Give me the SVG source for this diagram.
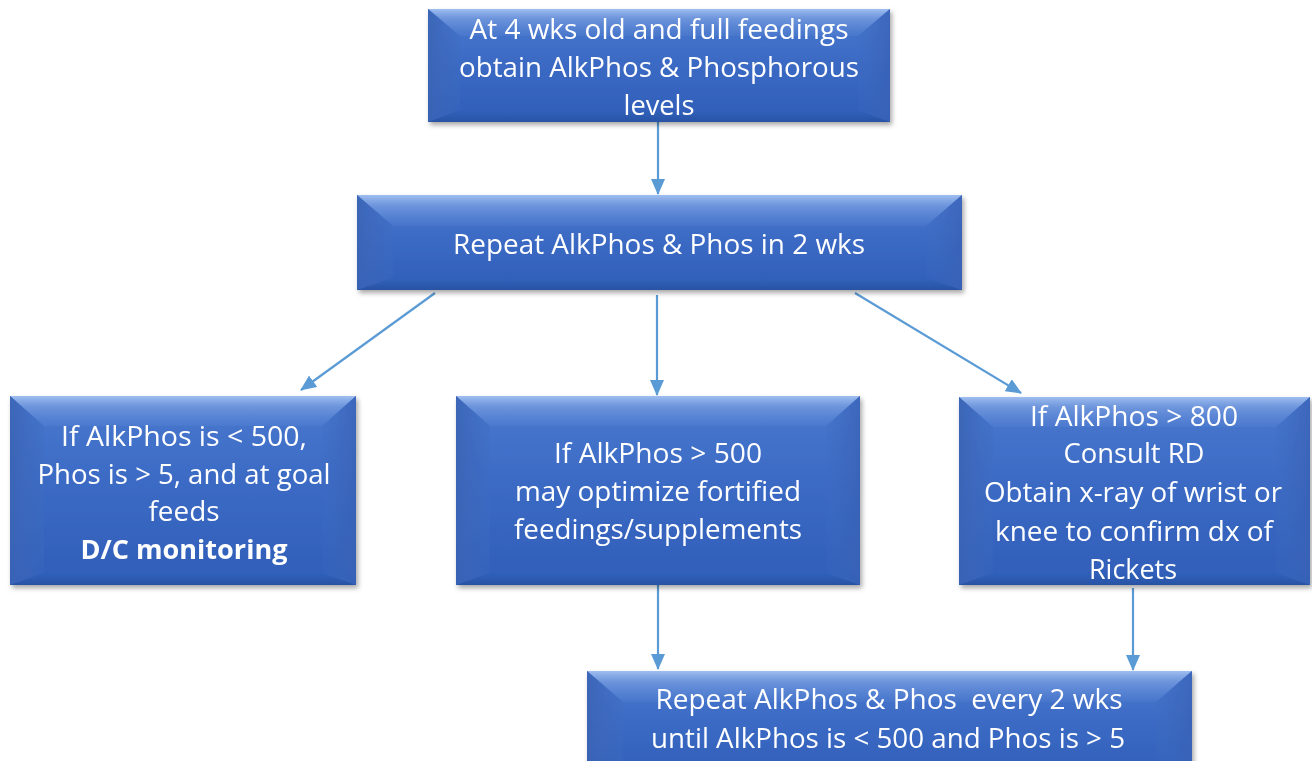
<svg xmlns="http://www.w3.org/2000/svg" width="1312" height="761" viewBox="0 0 1312 761">
<defs>
<filter id="sh" x="-5%" y="-5%" width="115%" height="125%"><feDropShadow dx="2" dy="3" stdDeviation="2.5" flood-color="#000" flood-opacity="0.35"/></filter>
<linearGradient id="gf" x1="0" y1="0" x2="0" y2="1"><stop offset="0" stop-color="#4a79cf"/><stop offset="0.5" stop-color="#3a69c3"/><stop offset="1" stop-color="#2f5eb8"/></linearGradient>
<linearGradient id="gt" x1="0" y1="0" x2="0" y2="1"><stop offset="0" stop-color="#a4c2f2" stop-opacity="0.95"/><stop offset="0.35" stop-color="#86a9e6" stop-opacity="0.6"/><stop offset="1" stop-color="#6d95dd" stop-opacity="0.15"/></linearGradient>
<linearGradient id="gl" x1="0" y1="0" x2="1" y2="0"><stop offset="0" stop-color="#3a64b4" stop-opacity="0.9"/><stop offset="1" stop-color="#3f6bc0" stop-opacity="0.3"/></linearGradient>
<linearGradient id="gr" x1="1" y1="0" x2="0" y2="0"><stop offset="0" stop-color="#3862b6" stop-opacity="0.8"/><stop offset="1" stop-color="#3f6bc0" stop-opacity="0.2"/></linearGradient>
<linearGradient id="gb" x1="0" y1="1" x2="0" y2="0"><stop offset="0" stop-color="#27519f" stop-opacity="0.9"/><stop offset="1" stop-color="#2f5eb8" stop-opacity="0.3"/></linearGradient>
<marker id="a" viewBox="0 0 16 14" refX="15" refY="7" markerWidth="16" markerHeight="14" markerUnits="userSpaceOnUse" orient="auto"><path d="M0,0 L16,7 L0,14 z" fill="#5b9bd5"/></marker>
</defs>
<style>
.face{fill:url(#gf)}
.top{fill:url(#gt)}
.left{fill:url(#gl)}
.right{fill:url(#gr)}
.bot{fill:url(#gb)}
text{font-family:"Open Sans","Noto Sans","Liberation Sans",sans-serif;font-size:27px;fill:#fff;text-anchor:middle}
.b{font-weight:bold}
.c{stroke:#5b9bd5;stroke-width:2.2;fill:none;marker-end:url(#a)}
</style>
<rect width="1312" height="761" fill="#fff"/>

<g id="connectors">
<line class="c" x1="658" y1="122" x2="658" y2="194"/>
<line class="c" x1="435" y1="293" x2="301" y2="390"/>
<line class="c" x1="657" y1="295" x2="657" y2="395"/>
<line class="c" x1="855" y1="293" x2="1021" y2="393"/>
<line class="c" x1="658" y1="566" x2="658" y2="669"/>
<line class="c" x1="1133" y1="588" x2="1133" y2="670"/>
</g>

<g id="n1" filter="url(#sh)">
<rect class="face" x="428" y="9" width="462" height="113"/>
<polygon class="top" points="428,9 890,9 858,36 460,36"/>
<polygon class="left" points="428,9 460,36 460,110 428,122"/>
<polygon class="right" points="890,9 890,122 858,110 858,36"/>
<polygon class="bot" points="428,122 460,110 858,110 890,122"/>
<text x="659" y="39" textLength="379" lengthAdjust="spacingAndGlyphs">At 4 wks old and full feedings</text>
<text x="659" y="77" textLength="400" lengthAdjust="spacingAndGlyphs">obtain AlkPhos &amp; Phosphorous</text>
<text x="659" y="115" textLength="71" lengthAdjust="spacingAndGlyphs">levels</text>
</g>

<g id="n2" filter="url(#sh)">
<rect class="face" x="357" y="195" width="605" height="95"/>
<polygon class="top" points="357,195 962,195 926,226 393,226"/>
<polygon class="left" points="357,195 393,226 393,278 357,290"/>
<polygon class="right" points="962,195 962,290 926,278 926,226"/>
<polygon class="bot" points="357,290 393,278 926,278 962,290"/>
<text x="659" y="254" textLength="412" lengthAdjust="spacingAndGlyphs">Repeat AlkPhos &amp; Phos in 2 wks</text>
</g>

<g id="n3" filter="url(#sh)">
<rect class="face" x="10" y="396" width="346" height="189"/>
<polygon class="top" points="10,396 356,396 322,426 44,426"/>
<polygon class="left" points="10,396 44,426 44,573 10,585"/>
<polygon class="right" points="356,396 356,585 322,573 322,426"/>
<polygon class="bot" points="10,585 44,573 322,573 356,585"/>
<text x="184" y="446" textLength="246" lengthAdjust="spacingAndGlyphs">If AlkPhos is &lt; 500,</text>
<text x="184" y="484" textLength="293" lengthAdjust="spacingAndGlyphs">Phos is &gt; 5, and at goal</text>
<text x="184" y="521" textLength="71" lengthAdjust="spacingAndGlyphs">feeds</text>
<text class="b" x="184" y="559" textLength="207" lengthAdjust="spacingAndGlyphs">D/C monitoring</text>
</g>

<g id="n4" filter="url(#sh)">
<rect class="face" x="456" y="396" width="404" height="189"/>
<polygon class="top" points="456,396 860,396 826,426 490,426"/>
<polygon class="left" points="456,396 490,426 490,573 456,585"/>
<polygon class="right" points="860,396 860,585 826,573 826,426"/>
<polygon class="bot" points="456,585 490,573 826,573 860,585"/>
<text x="658" y="463" textLength="208" lengthAdjust="spacingAndGlyphs">If AlkPhos &gt; 500</text>
<text x="658" y="501" textLength="286" lengthAdjust="spacingAndGlyphs">may optimize fortified</text>
<text x="658" y="539" textLength="288" lengthAdjust="spacingAndGlyphs">feedings/supplements</text>
</g>

<g id="n5" filter="url(#sh)">
<rect class="face" x="959" y="397" width="351" height="188"/>
<polygon class="top" points="959,397 1310,397 1276,427 993,427"/>
<polygon class="left" points="959,397 993,427 993,573 959,585"/>
<polygon class="right" points="1310,397 1310,585 1276,573 1276,427"/>
<polygon class="bot" points="959,585 993,573 1276,573 1310,585"/>
<text x="1134" y="426" textLength="208" lengthAdjust="spacingAndGlyphs">If AlkPhos &gt; 800</text>
<text x="1134" y="463" textLength="141" lengthAdjust="spacingAndGlyphs">Consult RD</text>
<text x="1133" y="502" textLength="298" lengthAdjust="spacingAndGlyphs">Obtain x-ray of wrist or</text>
<text x="1134" y="541" textLength="278" lengthAdjust="spacingAndGlyphs">knee to confirm dx of</text>
<text x="1133" y="579" textLength="88" lengthAdjust="spacingAndGlyphs">Rickets</text>
</g>

<g id="n6" filter="url(#sh)">
<rect class="face" x="587" y="671" width="605" height="110"/>
<polygon class="top" points="587,671 1192,671 1156,702 623,702"/>
<polygon class="left" points="587,671 623,702 623,769 587,781"/>
<polygon class="right" points="1192,671 1192,781 1156,769 1156,702"/>
<text x="889" y="709" xml:space="preserve" textLength="467" lengthAdjust="spacingAndGlyphs">Repeat AlkPhos &amp; Phos  every 2 wks</text>
<text x="888" y="748" textLength="474" lengthAdjust="spacingAndGlyphs">until AlkPhos is &lt; 500 and Phos is &gt; 5</text>
</g>
</svg>
